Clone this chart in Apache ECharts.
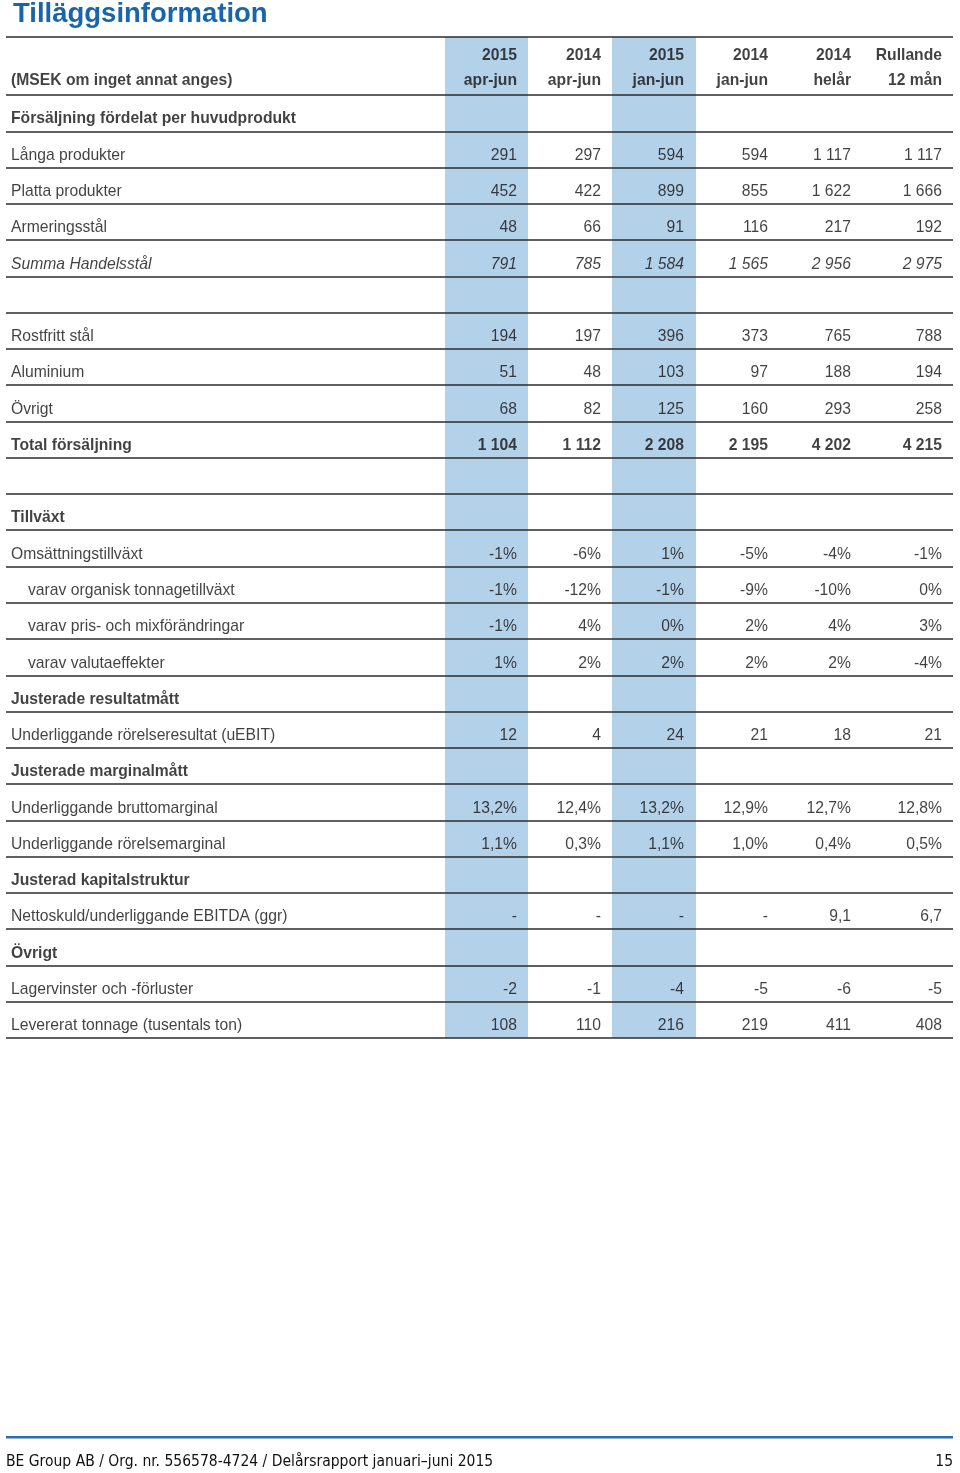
<!DOCTYPE html>
<html>
<head>
<meta charset="utf-8">
<title>Tilläggsinformation</title>
<script src="https://cdn.jsdelivr.net/npm/echarts@6/dist/echarts.min.js"></script>
<style>
  html, body { margin: 0; padding: 0; background: #fff; }
  #chart { width: 960px; height: 1473px; }
</style>
</head>
<body>
<div id="chart"></div>
<script>
// column headers (two lines each)
const headYears = ['2015', '2014', '2015', '2014', '2014', 'Rullande'];
const headPeriods = ['apr-jun', 'apr-jun', 'jan-jun', 'jan-jun', 'helår', '12 mån'];

// Försäljning fördelat per huvudprodukt
const langaProdukter = [291, 297, 594, 594, 1117, 1117];
const plattaProdukter = [452, 422, 899, 855, 1622, 1666];
const armeringsstal = [48, 66, 91, 116, 217, 192];
const summaHandelsstal = [791, 785, 1584, 1565, 2956, 2975];
const rostfrittStal = [194, 197, 396, 373, 765, 788];
const aluminium = [51, 48, 103, 97, 188, 194];
const ovrigtSales = [68, 82, 125, 160, 293, 258];
const totalForsaljning = [1104, 1112, 2208, 2195, 4202, 4215];

// Tillväxt (%)
const omsattningstillvaxt = [-1, -6, 1, -5, -4, -1];
const organiskTillvaxt = [-1, -12, -1, -9, -10, 0];
const prisMix = [-1, 4, 0, 2, 4, 3];
const valutaeffekter = [1, 2, 2, 2, 2, -4];

// Justerade mått
const uEbit = [12, 4, 24, 21, 18, 21];
const bruttomarginal = [13.2, 12.4, 13.2, 12.9, 12.7, 12.8];
const rorelsemarginal = [1.1, 0.3, 1.1, 1.0, 0.4, 0.5];
const nettoskuldEbitda = [null, null, null, null, 9.1, 6.7];

// Övrigt
const lagervinster = [-2, -1, -4, -5, -6, -5];
const levereratTonnage = [108, 110, 216, 219, 411, 408];

const fmt = {
  int: (v) => (v < 0 ? '-' : '') + String(Math.abs(v)).replace(/\B(?=(\d{3})+(?!\d))/g, ' '),
  pct: (v) => v + '%',
  pct1: (v) => v.toFixed(1).replace('.', ',') + '%',
  dec1: (v) => (v == null ? '-' : v.toFixed(1).replace('.', ',')),
};

const rows = [
  { label: 'Försäljning fördelat per huvudprodukt', weight: 'bold' },
  { label: 'Långa produkter', values: langaProdukter, f: fmt.int },
  { label: 'Platta produkter', values: plattaProdukter, f: fmt.int },
  { label: 'Armeringsstål', values: armeringsstal, f: fmt.int },
  { label: 'Summa Handelsstål', values: summaHandelsstal, f: fmt.int, italic: true },
  { label: '' },
  { label: 'Rostfritt stål', values: rostfrittStal, f: fmt.int },
  { label: 'Aluminium', values: aluminium, f: fmt.int },
  { label: 'Övrigt', values: ovrigtSales, f: fmt.int },
  { label: 'Total försäljning', values: totalForsaljning, f: fmt.int, weight: 'bold' },
  { label: '' },
  { label: 'Tillväxt', weight: 'bold' },
  { label: 'Omsättningstillväxt', values: omsattningstillvaxt, f: fmt.pct },
  { label: 'varav organisk tonnagetillväxt', values: organiskTillvaxt, f: fmt.pct, indent: true },
  { label: 'varav pris- och mixförändringar', values: prisMix, f: fmt.pct, indent: true },
  { label: 'varav valutaeffekter', values: valutaeffekter, f: fmt.pct, indent: true },
  { label: 'Justerade resultatmått', weight: 'bold' },
  { label: 'Underliggande rörelseresultat (uEBIT)', values: uEbit, f: fmt.int },
  { label: 'Justerade marginalmått', weight: 'bold' },
  { label: 'Underliggande bruttomarginal', values: bruttomarginal, f: fmt.pct1 },
  { label: 'Underliggande rörelsemarginal', values: rorelsemarginal, f: fmt.pct1 },
  { label: 'Justerad kapitalstruktur', weight: 'bold' },
  { label: 'Nettoskuld/underliggande EBITDA (ggr)', values: nettoskuldEbitda, f: fmt.dec1 },
  { label: 'Övrigt', weight: 'bold' },
  { label: 'Lagervinster och -förluster', values: lagervinster, f: fmt.int },
  { label: 'Levererat tonnage (tusentals ton)', values: levereratTonnage, f: fmt.int },
];

// layout (x in px from table left edge, y in row units; header occupies HEAD rows)
const HEAD = 1.6;
const colRight = [511, 595, 678, 762, 845, 936];
const bands = [[439, 522], [606, 690]];
const labelX = 5;
const indentX = 22;
const FONT = 'Liberation Sans, Arial, Helvetica, sans-serif';
const FOOT_FONT = 'Liberation Sans Narrow, DejaVu Sans Condensed, sans-serif';
const TEXT = '#111111';

const textItems = [];
function addText(x, y, text, opts) {
  textItems.push({
    value: [x, y],
    label: {
      formatter: text,
      align: opts.align,
      color: TEXT,
      fontWeight: opts.weight || 'normal',
      fontStyle: opts.italic ? 'italic' : 'normal',
      offset: [0, opts.dy || 0],
    },
  });
}

// header
headYears.forEach((t, i) => addText(colRight[i], -1.08, t, { align: 'right', weight: 'bold' }));
headPeriods.forEach((t, i) => addText(colRight[i], -0.39, t, { align: 'right', weight: 'bold' }));
addText(labelX, -0.39, '(MSEK om inget annat anges)', { align: 'left', weight: 'bold' });

// body
rows.forEach((r, ri) => {
  const y = ri + 0.5;
  if (r.label) {
    addText(r.indent ? indentX : labelX, y, r.label, { align: 'left', weight: r.weight, italic: r.italic, dy: 6 });
  }
  if (r.values) {
    r.values.forEach((v, ci) => {
      addText(colRight[ci], y, r.f(v), { align: 'right', weight: r.weight, italic: r.italic, dy: 6 });
    });
  }
});

const rowLines = [-HEAD];
for (let i = 0; i <= rows.length; i++) rowLines.push(i);

const chart = echarts.init(document.getElementById('chart'), null, { renderer: 'canvas' });

chart.setOption({
  animation: false,
  backgroundColor: '#ffffff',
  grid: { left: 6, top: 37, width: 947, height: 1001, show: false },
  xAxis: { type: 'value', min: 0, max: 947, show: false },
  yAxis: { type: 'value', min: -HEAD, max: rows.length, inverse: true, show: false },
  graphic: [
    {
      type: 'text', x: 13, y: 14, z: 10,
      style: { text: 'Tilläggsinformation', fontSize: 27.5, fontWeight: 'bold', fontFamily: FONT, fill: '#1765ab', verticalAlign: 'middle', align: 'left' },
    },
    {
      type: 'rect', x: 6, y: 1436, z: 10,
      shape: { width: 947, height: 2.5 },
      style: { fill: '#2a6fb0' },
    },
    {
      type: 'text', x: 6, y: 1462, z: 10,
      style: { text: 'BE Group AB / Org. nr. 556578-4724 / Delårsrapport januari–juni 2015', fontSize: 15.5, fontFamily: FOOT_FONT, fill: TEXT, verticalAlign: 'middle', align: 'left' },
    },
    {
      type: 'text', x: 953, y: 1462, z: 10,
      style: { text: '15', fontSize: 15.5, fontFamily: FOOT_FONT, fill: TEXT, verticalAlign: 'middle', align: 'right' },
    },
  ],
  series: [
    {
      name: 'bands',
      type: 'scatter',
      data: [],
      silent: true,
      z: 1,
      markArea: {
        silent: true,
        itemStyle: { color: '#b4d1ea' },
        data: bands.map(([a, b]) => [{ xAxis: a, yAxis: -HEAD }, { xAxis: b, yAxis: rows.length }]),
      },
    },
    {
      name: 'rules',
      type: 'scatter',
      data: [],
      silent: true,
      z: 2,
      markLine: {
        silent: true,
        symbol: 'none',
        animation: false,
        label: { show: false },
        lineStyle: { color: '#2b2b2b', width: 1.6, type: 'solid' },
        data: rowLines.map((v) => ({ yAxis: v })),
      },
    },
    {
      name: 'cells',
      type: 'scatter',
      silent: true,
      z: 3,
      symbolSize: 1,
      itemStyle: { color: 'rgba(0,0,0,0)' },
      label: {
        show: true,
        position: 'inside',
        verticalAlign: 'middle',
        color: TEXT,
        textBorderWidth: 0,
        fontSize: 15.7,
        fontFamily: FONT,
      },
      data: textItems,
    },
  ],
});

window.addEventListener('resize', () => chart.resize());
</script>
</body>
</html>
